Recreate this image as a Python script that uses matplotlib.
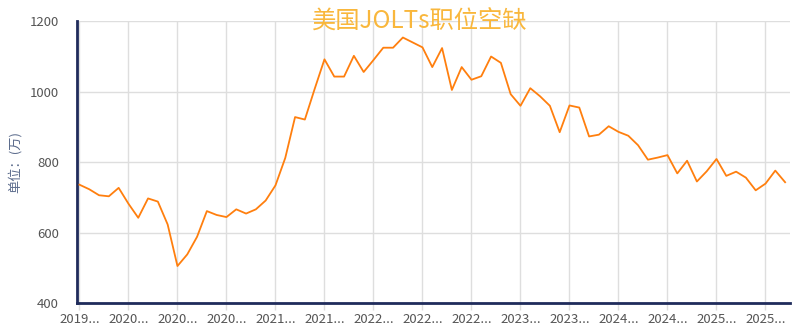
import matplotlib
matplotlib.use('Agg')
import matplotlib.pyplot as plt

plt.rcParams['font.family'] = ['Noto Sans CJK SC', 'DejaVu Sans']

# 职位空缺（万），月度，2019-08 至 2025-08
meses = [f"{2019 + (7 + i) // 12}-{(7 + i) % 12 + 1:02d}" for i in range(73)]
vacantes = [
    736, 723, 706, 703, 727, 682, 642, 697, 688, 623,
    505, 538, 588, 661, 650, 644, 666, 654, 666, 691,
    734, 812, 928, 921, 1008, 1092, 1043, 1043, 1102, 1056,
    1090, 1125, 1125, 1154, 1140, 1126, 1070, 1124, 1005, 1070,
    1034, 1044, 1100, 1082, 993, 960, 1010, 987, 960, 885,
    961, 955, 873, 878, 902, 886, 875, 848, 807, 813,
    820, 768, 804, 745, 774, 809, 761, 773, 756, 720,
    739, 776, 743,
]
paso_etiqueta = 5
titulo = "美国JOLTs职位空缺"
unidad = "单位：(万)"

fig = plt.figure(figsize=(7.97, 3.34), dpi=100)
ax = fig.add_axes([77 / 797, 31 / 334, 713 / 797, 281.7 / 334])

x = list(range(len(vacantes)))
ax.plot(x, vacantes, color='#ff7f0e', linewidth=1.3, zorder=3)

pos = x[::paso_etiqueta]
ax.set_xticks(pos)
ax.set_xticklabels([meses[i][:4] + "..." for i in pos])
ax.set_xlim(-0.25, 72.5)
ax.set_ylim(400, 1200)
ax.set_yticks([400, 600, 800, 1000, 1200])

ax.grid(True, color='#dedede', linewidth=1.0)
ax.set_axisbelow(True)

for lado in ['top', 'right']:
    ax.spines[lado].set_visible(False)
for lado in ['left', 'bottom']:
    ax.spines[lado].set_color('#1f2b5b')
    ax.spines[lado].set_linewidth(2)

ax.tick_params(axis='x', colors='#dedede', length=5, width=1, labelcolor='#555555',
               labelsize=9.5, pad=2)
ax.tick_params(axis='y', length=0, labelcolor='#555555', labelsize=9.5, pad=13)

ax.set_ylabel(unidad, color='#5b6b8c', fontsize=9.5)
ax.yaxis.set_label_coords(-0.078, 0.5)

fig.text(420 / 797, 1 - 22 / 334, titulo, color='#f9b73c', fontsize=17.5,
         ha='center', va='center')

fig.savefig('out.png', dpi=100)
